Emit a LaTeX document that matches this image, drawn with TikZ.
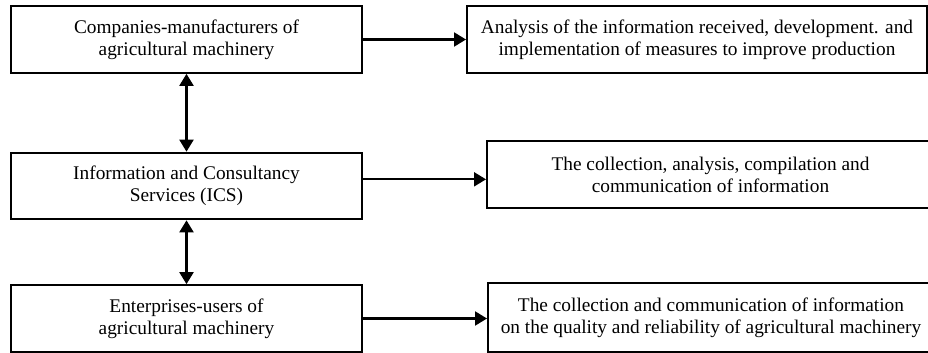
\documentclass[tikz,border=0pt]{standalone}
\usepackage{fontspec}
\setmainfont{Liberation Serif}
\usetikzlibrary{arrows.meta, positioning}

\tikzset{
	box/.style={draw, line width=1.5pt, rectangle, align=center, inner sep=2pt,
		font=\fontsize{14.5}{16.5}\selectfont},
	leftbox/.style={box, minimum width=263.25pt, minimum height=50pt},
	conn/.style={line width=1.6pt},
}

\begin{document}
\begin{tikzpicture}[x=0.75pt, y=-0.75pt, >={Triangle[length=9pt, width=10.5pt]}]
		\useasboundingbox (0,0) rectangle (928,353);
		% left column
		\node[leftbox]	(cm)	at (186.5,39.5)	{Companies-manufacturers of\\agricultural machinery};
		\node[leftbox]	(ics)	at (186.5,186)	{Information and Consultancy\\Services (ICS)};
		\node[leftbox]	(eu)	at (186.5,318.5)	{Enterprises-users of\\agricultural machinery};
		% right column
		\node[box, minimum width=345pt, minimum height=50pt]		(an)	at (697,39.5)	{Analysis of the information received, development. and\\implementation of measures to improve production};
		\node[box, minimum width=335.25pt, minimum height=50.5pt]	(col)	at (710.5,174.5)	{The collection, analysis, compilation and\\communication of information};
		\node[box, minimum width=334.5pt, minimum height=51.75pt]	(qual)	at (711,317.5)	{The collection and communication of information\\on the quality and reliability of agricultural machinery};
		\draw[conn, ->] (cm) -- (an);
		\draw[conn, ->] ([yshift=5pt]ics.east) -- ([yshift=5pt]ics.east -| col.west);
		\draw[conn, ->] (eu) -- (eu -| qual.west);
		\draw[conn, <->] (cm) -- (ics);
		\draw[conn, <->] (ics) -- (eu);
\end{tikzpicture}
\end{document}
